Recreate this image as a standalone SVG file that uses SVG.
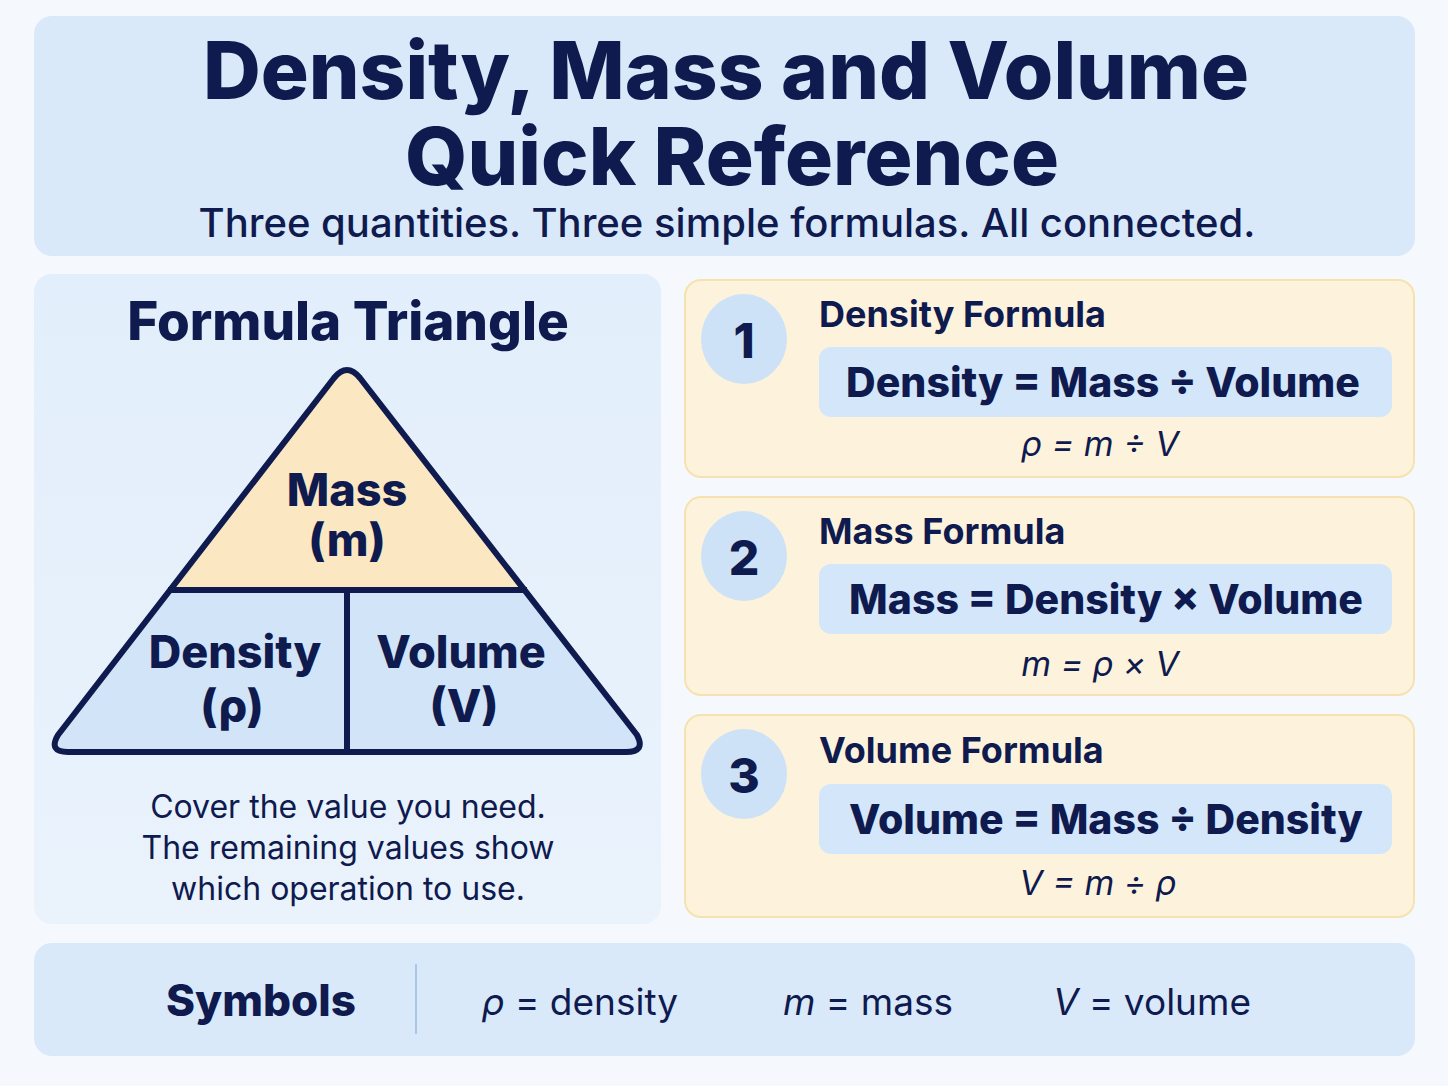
<svg xmlns="http://www.w3.org/2000/svg" width="1448" height="1086" viewBox="0 0 1448 1086">
<defs>
<linearGradient id="lp" x1="0" y1="0" x2="0" y2="1"><stop offset="0" stop-color="#e2eefb"/><stop offset="1" stop-color="#eaf3fc"/></linearGradient>
<style>
text{font-family:Inter,"Open Sans","Liberation Sans",sans-serif;fill:#0f1a4e}
.b{font-weight:800}
.h{font-weight:700;font-size:36px}
.f{font-weight:800;font-size:41px;text-anchor:middle}
.s{font-style:italic;font-size:34px;text-anchor:middle}
.n{font-weight:800;font-size:48px;text-anchor:middle}
.card{fill:#fdf3dc;stroke:#f6e2b0;stroke-width:2}
.fb{fill:#d4e6fa}
.c{fill:#cde2f7}
.t{font-weight:800;font-size:45px;text-anchor:middle}
</style>
</defs>
<rect width="1448" height="1086" fill="#f5f9fe"/>
<g id="header">
<rect x="34" y="16" width="1381" height="240" rx="18" fill="#d9e9fa"/>
<text x="726" y="99" class="b" font-size="80" text-anchor="middle">Density, Mass and Volume</text>
<text x="732" y="185" class="b" font-size="80" text-anchor="middle">Quick Reference</text>
<text x="727" y="237" font-size="40" text-anchor="middle" font-weight="500">Three quantities. Three simple formulas. All connected.</text>
</g>
<g id="triangle-panel">
<rect x="34" y="274" width="627" height="650" rx="18" fill="url(#lp)"/>
<text x="348" y="340" class="b" font-size="53" text-anchor="middle">Formula Triangle</text>
<path d="M334 378 Q347 362 360 378 L527 590 L168 590 Z" fill="#fbe8c3"/>
<path d="M168 590 L527 590 L637 735 Q646 752 626 752 L68 752 Q48 752 58 735 Z" fill="#d2e5f8"/>
<path d="M334 378 Q347 362 360 378 L637 735 Q646 752 626 752 L68 752 Q48 752 58 735 Z M168 590 L527 590 M347 590 L347 752" fill="none" stroke="#0f1a4e" stroke-width="6" stroke-linejoin="round"/>
<text x="347" y="506" class="t">Mass</text>
<text x="347" y="556" class="t">(m)</text>
<text x="235" y="668" class="t">Density</text>
<text x="232" y="722" class="t">(ρ)</text>
<text x="461" y="668" class="t">Volume</text>
<text x="464" y="722" class="t">(V)</text>
<text x="348" y="818" font-size="32" text-anchor="middle">Cover the value you need.</text>
<text x="348" y="859" font-size="32" text-anchor="middle">The remaining values show</text>
<text x="348" y="900" font-size="32" text-anchor="middle">which operation to use.</text>
</g>
<g id="card1">
<rect class="card" x="685" y="280" width="729" height="197" rx="16"/>
<ellipse class="c" cx="744" cy="339" rx="43" ry="45"/>
<text class="n" x="744" y="358">1</text>
<text class="h" x="819" y="327">Density Formula</text>
<rect class="fb" x="819" y="347" width="573" height="70" rx="12"/>
<text class="f" x="1103" y="397">Density = Mass ÷ Volume</text>
<text class="s" x="1100" y="456">ρ = m ÷ V</text>
</g>
<g id="card2">
<rect class="card" x="685" y="497" width="729" height="198" rx="16"/>
<ellipse class="c" cx="744" cy="556" rx="43" ry="45"/>
<text class="n" x="744" y="575">2</text>
<text class="h" x="819" y="544">Mass Formula</text>
<rect class="fb" x="819" y="564" width="573" height="70" rx="12"/>
<text class="f" x="1106" y="614">Mass = Density × Volume</text>
<text class="s" x="1100" y="676">m = ρ × V</text>
</g>
<g id="card3">
<rect class="card" x="685" y="715" width="729" height="202" rx="16"/>
<ellipse class="c" cx="744" cy="774" rx="43" ry="45"/>
<text class="n" x="744" y="793">3</text>
<text class="h" x="819" y="763">Volume Formula</text>
<rect class="fb" x="819" y="784" width="573" height="70" rx="12"/>
<text class="f" x="1106" y="834">Volume = Mass ÷ Density</text>
<text class="s" x="1098" y="895">V = m ÷ ρ</text>
</g>
<g id="symbols">
<rect x="34" y="943" width="1381" height="113" rx="18" fill="#d9e9fa"/>
<text x="261" y="1016" class="b" font-size="44" text-anchor="middle">Symbols</text>
<line x1="416" y1="964" x2="416" y2="1034" stroke="#a9c6e4" stroke-width="2"/>
<text x="580" y="1015" font-size="37" text-anchor="middle"><tspan font-style="italic">ρ</tspan> = density</text>
<text x="868" y="1015" font-size="37" text-anchor="middle"><tspan font-style="italic">m</tspan> = mass</text>
<text x="1152" y="1015" font-size="37" text-anchor="middle"><tspan font-style="italic">V</tspan> = volume</text>
</g>
</svg>
